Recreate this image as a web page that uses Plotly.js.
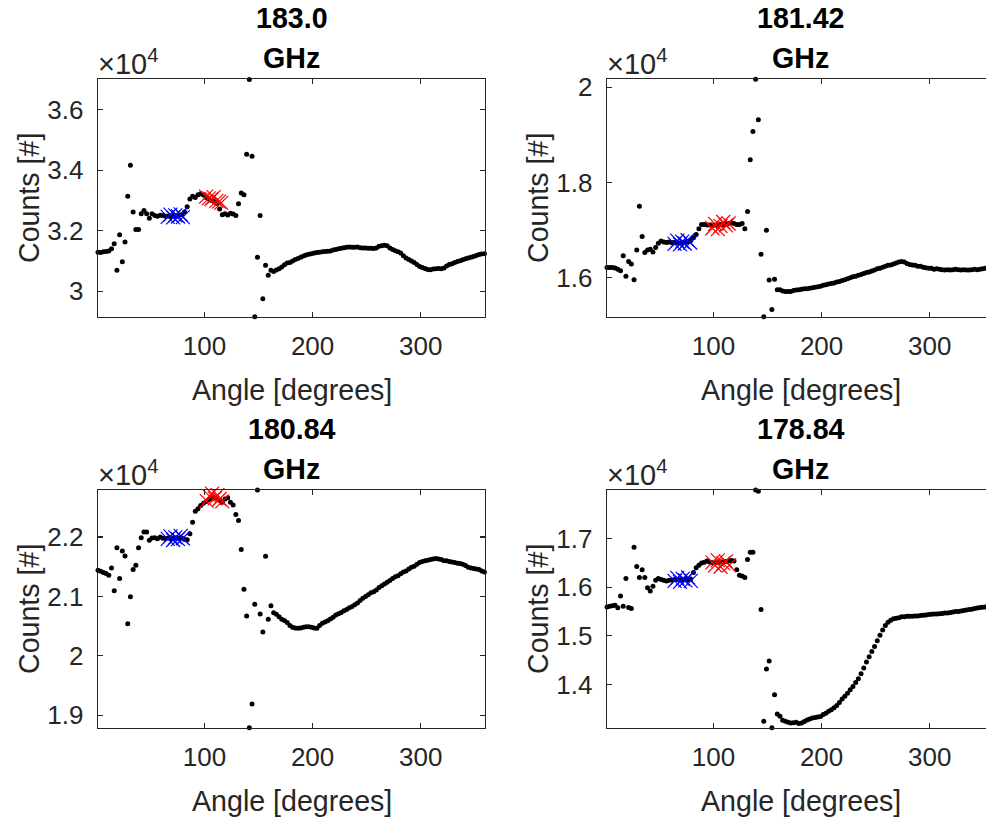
<!DOCTYPE html>
<html><head><meta charset="utf-8">
<script src="https://cdn.plot.ly/plotly-3.0.1.min.js"></script>
<style>html,body{margin:0;padding:0;overflow:hidden;background:#fff}</style>
</head><body>
<div id="chart" style="width:994px;height:817px"></div>
<script>
// Shared angle grid (degrees)
const angle = [1.5,4,6.5,9,11.5,14,16.5,19,21.5,24,26.5,29,31.5,34,36.5,39,41.5,44,46.5,49,
51.5,54,56.5,59,61.5,64,66.5,69,71.5,74,76.5,79,81.5,84,86.5,89,91.5,94,96.5,99,
101.5,104,106.5,109,111.5,114,116.5,119,121.5,124,126.5,129,131.5,134,136.5,139,141.5,144,146.5,149,
151.5,154,156.5,159,161.5,164,166.5,169,171.5,174,176.5,179,181.5,184,186.5,189,191.5,194,196.5,199,
201.5,204,206.5,209,211.5,214,216.5,219,221.5,224,226.5,229,231.5,234,236.5,239,241.5,244,246.5,249,
251.5,254,256.5,259,261.5,264,266.5,269,271.5,274,276.5,279,281.5,284,286.5,289,291.5,294,296.5,299,
301.5,304,306.5,309,311.5,314,316.5,319,321.5,324,326.5,329,331.5,334,336.5,339,341.5,344,346.5,349,
351.5,354,356.5,359];

const counts1830 = [31290,31280,31300,31310,31330,31400,31570,30690,31870,30970,
31630,33140,34170,32620,32040,32040,32560,32670,32560,32410,
32560,32500,32480,32510,32500,32480,32490,32470,32500,32490,
32510,32540,32620,32790,33050,33140,33100,33190,33220,33180,
33100,33050,33000,32960,32900,32720,32530,32560,32520,32580,
32550,32500,32890,33250,33190,34530,37000,34460,29150,31120,
32500,29750,30860,30530,30690,30650,30700,30740,30800,30870,
30930,30950,31000,31050,31080,31120,31160,31200,31220,31240,
31260,31280,31290,31300,31310,31320,31330,31360,31380,31400,
31420,31440,31450,31460,31450,31450,31460,31440,31430,31430,
31420,31420,31410,31430,31490,31500,31520,31500,31430,31380,
31340,31300,31260,31170,31100,31050,31000,30950,30880,30820,
30780,30750,30720,30710,30730,30740,30750,30740,30770,30830,
30880,30910,30950,30980,31010,31040,31070,31100,31120,31150,
31180,31210,31230,31240];

const counts18142 = [16217,16217,16217,16205,16180,16146,16460,16030,16340,16290,
15960,16580,17500,16865,16530,16580,16600,16540,16635,16725,
16770,16750,16740,16750,16740,16740,16740,16730,16740,16750,
16760,16780,16840,16910,17030,17120,17120,17110,17110,17100,
17100,17110,17120,17120,17130,17140,17160,17140,17120,17120,
17140,17030,17390,18480,19070,20170,19320,16495,15180,17000,
15950,15330,15970,15750,15750,15720,15710,15710,15710,15730,
15740,15750,15760,15770,15770,15780,15790,15800,15810,15820,
15840,15850,15870,15880,15890,15910,15920,15940,15960,15980,
16000,16020,16030,16050,16070,16090,16110,16120,16140,16160,
16190,16200,16220,16240,16260,16270,16290,16310,16330,16340,
16330,16300,16280,16270,16260,16240,16240,16220,16210,16200,
16200,16180,16190,16180,16170,16160,16170,16160,16170,16180,
16170,16160,16170,16160,16160,16170,16180,16170,16180,16190,
16200,16200,16210,16210];

const counts18084 = [21442,21425,21405,21387,21358,21480,21096,21820,21300,21765,
21680,20540,20995,21454,21526,21820,21990,22084,22084,21945,
21983,21990,21970,22000,21980,21975,21985,21970,21980,21990,
21975,21985,21960,21956,22057,22250,22436,22476,22530,22570,
22600,22630,22650,22660,22650,22620,22586,22640,22660,22586,
22540,22380,22280,21790,21120,20670,18790,19190,20870,22790,
20705,20400,21677,20616,20844,20727,20700,20660,20616,20593,
20560,20510,20480,20470,20466,20470,20480,20490,20490,20480,
20470,20466,20510,20550,20570,20590,20620,20650,20688,20710,
20730,20760,20780,20810,20830,20860,20890,20930,20970,21000,
21030,21060,21080,21110,21150,21180,21210,21240,21270,21300,
21330,21350,21380,21410,21430,21460,21490,21510,21540,21570,
21590,21600,21610,21620,21630,21640,21630,21620,21600,21600,
21590,21580,21570,21560,21555,21540,21520,21490,21480,21470,
21460,21454,21430,21410];

const counts17884 = [15595,15610,15616,15630,15575,15820,15610,16176,15583,15562,
16820,16427,16200,16360,16200,15990,15920,16018,16140,16176,
16160,16140,16127,16140,16150,16160,16160,16155,16160,16165,
16160,16170,16300,16400,16450,16495,16515,16536,16520,16500,
16500,16510,16520,16520,16530,16540,16550,16536,16360,16243,
16230,16200,16570,16720,16720,17996,17970,15540,13243,14320,
14485,13110,13790,13395,13346,13264,13243,13223,13210,13215,
13223,13200,13210,13240,13270,13290,13310,13320,13330,13340,
13380,13410,13450,13480,13520,13570,13630,13700,13760,13820,
13890,13960,14040,14120,14220,14340,14460,14570,14680,14780,
14900,15010,15120,15210,15280,15320,15350,15360,15370,15390,
15390,15400,15400,15405,15410,15410,15420,15425,15430,15440,
15445,15450,15450,15455,15460,15470,15470,15480,15490,15500,
15500,15510,15520,15530,15540,15548,15560,15570,15580,15585,
15595,15600,15610,15610];

// Highlighted samples (blue and red crosses)
const blueAngle1830 = [66,68.5,71,73,75.5,78,80];
const blueCounts1830 = [32460,32530,32440,32510,32470,32540,32450];
const redAngle1830 = [101.5,104,106.5,108.5,111,113.5,115.5];
const redCounts1830 = [33130,33070,33050,33110,32990,32960,32920];

const blueAngle18142 = [64,66.5,69,71,73.5,76,78.5];
const blueCounts18142 = [16710,16780,16700,16760,16720,16790,16740];
const redAngle18142 = [99,101.5,104,106.5,109,111.5,114];
const redCounts18142 = [17040,17130,17020,17090,17170,17100,17140];

const blueAngle18084 = [66,68.5,71,73,75.5,78,80];
const blueCounts18084 = [21970,22010,21950,21995,21965,22020,21980];
const redAngle18084 = [102,104.5,107,109.5,112,114,116.5];
const redCounts18084 = [22610,22690,22730,22650,22710,22640,22600];

const blueAngle17884 = [64,66.5,69,71.5,74,76.5,79];
const blueCounts17884 = [16130,16190,16110,16170,16140,16200,16130];
const redAngle17884 = [99,101.5,104,106.5,109,111.5,114.5];
const redCounts17884 = [16510,16450,16550,16420,16490,16530,16450];

// Tick labels (counts / 1e4)
const yTickVals1830 = [30000,32000,34000,36000];
const yTickText1830 = ['3','3.2','3.4','3.6'];
const yTickVals18142 = [16000,18000,20000];
const yTickText18142 = ['1.6','1.8','2'];
const yTickVals18084 = [19000,20000,21000,22000];
const yTickText18084 = ['1.9','2','2.1','2.2'];
const yTickVals17884 = [14000,15000,16000,17000];
const yTickText17884 = ['1.4','1.5','1.6','1.7'];
const xTickVals = [100,200,300];
const xTickText = ['100','200','300'];

const titles = ['183.0','181.42','180.84','178.84'];

const FONT = '"Liberation Sans", Arial, Helvetica, sans-serif';
const AX = '#262626';
const W = 994, H = 817;
const px = v => v / W;
const py = v => 1 - v / H;

const panels = [
  {title: titles[0], counts: counts1830, bA: blueAngle1830, bC: blueCounts1830, rA: redAngle1830, rC: redCounts1830,
   yr: [29145, 37020], tv: yTickVals1830, tt: yTickText1830, box: [98, 485, 79, 317]},
  {title: titles[1], counts: counts18142, bA: blueAngle18142, bC: blueCounts18142, rA: redAngle18142, rC: redCounts18142,
   yr: [15175, 20175], tv: yTickVals18142, tt: yTickText18142, box: [607, 994, 79, 317]},
  {title: titles[2], counts: counts18084, bA: blueAngle18084, bC: blueCounts18084, rA: redAngle18084, rC: redCounts18084,
   yr: [18785, 22792], tv: yTickVals18084, tt: yTickText18084, box: [98, 485, 490, 728]},
  {title: titles[3], counts: counts17884, bA: blueAngle17884, bC: blueCounts17884, rA: redAngle17884, rC: redCounts17884,
   yr: [13105, 17998], tv: yTickVals17884, tt: yTickText17884, box: [607, 994, 490, 728]}
];

const data = [];
const layout = {
  width: W, height: H, margin: {l: 0, r: 0, t: 0, b: 0},
  paper_bgcolor: '#fff', plot_bgcolor: '#fff', showlegend: false,
  font: {family: FONT, color: AX}, annotations: []
};

panels.forEach((p, i) => {
  const n = i + 1;
  const xs = n === 1 ? 'x' : 'x' + n;
  const ys = n === 1 ? 'y' : 'y' + n;
  const [l, r, t, b] = p.box;
  data.push({type: 'scatter', mode: 'markers', x: angle, y: p.counts, xaxis: xs, yaxis: ys,
    cliponaxis: false, marker: {size: 5, color: '#000000'}, hoverinfo: 'skip'});
  data.push({type: 'scatter', mode: 'markers', x: p.bA, y: p.bC, xaxis: xs, yaxis: ys, cliponaxis: false,
    marker: {symbol: 'x-thin-open', size: 14, color: '#0000ff', line: {color: '#0000ff', width: 1.2}}, hoverinfo: 'skip'});
  data.push({type: 'scatter', mode: 'markers', x: p.rA, y: p.rC, xaxis: xs, yaxis: ys, cliponaxis: false,
    marker: {symbol: 'x-thin-open', size: 14, color: '#ff0000', line: {color: '#ff0000', width: 1.2}}, hoverinfo: 'skip'});

  const common = {ticks: 'inside', ticklen: 5, tickwidth: 1.3, tickcolor: AX, showline: true, linecolor: AX,
    linewidth: 1.3, mirror: 'ticks', showgrid: false, zeroline: false, fixedrange: true,
    tickfont: {family: FONT, size: 26, color: AX}};
  layout['xaxis' + (n === 1 ? '' : n)] = Object.assign({}, common, {
    domain: [px(l), px(r)], range: [1.5, 359.5], anchor: ys, tickmode: 'array',
    tickvals: xTickVals, ticktext: xTickText, ticklabelstandoff: 5});
  layout['yaxis' + (n === 1 ? '' : n)] = Object.assign({}, common, {
    domain: [py(b), py(t)], range: p.yr, anchor: xs, tickmode: 'array',
    tickvals: p.tv, ticktext: p.tt, ticklabelstandoff: 8});

  const cx = (l + r) / 2;
  const ann = layout.annotations;
  ann.push({xref: 'paper', yref: 'paper', x: px(cx), y: py(t - 61), xanchor: 'center', yanchor: 'middle',
    text: '<b>' + p.title + '</b>', showarrow: false, font: {family: FONT, size: 28.6, color: '#000'}});
  ann.push({xref: 'paper', yref: 'paper', x: px(cx), y: py(t - 21), xanchor: 'center', yanchor: 'middle',
    text: '<b>GHz</b>', showarrow: false, font: {family: FONT, size: 28.6, color: '#000'}});
  ann.push({xref: 'paper', yref: 'paper', x: px(l - 2), y: py(t + 3), xanchor: 'left', yanchor: 'bottom',
    text: '\u00d710<sup>4</sup>', showarrow: false, font: {family: FONT, size: 29, color: AX}});
  ann.push({xref: 'paper', yref: 'paper', x: px(cx), y: py(b + 73), xanchor: 'center', yanchor: 'middle',
    text: 'Angle [degrees]', showarrow: false, font: {family: FONT, size: 28.6, color: AX}});
  ann.push({xref: 'paper', yref: 'paper', x: px(l - 69), y: py((t + b) / 2), xanchor: 'center', yanchor: 'middle',
    text: 'Counts [#]', textangle: -90, showarrow: false, font: {family: FONT, size: 28.6, color: AX}});
});

Plotly.newPlot('chart', data, layout, {displayModeBar: false, staticPlot: true});
</script>
</body></html>
